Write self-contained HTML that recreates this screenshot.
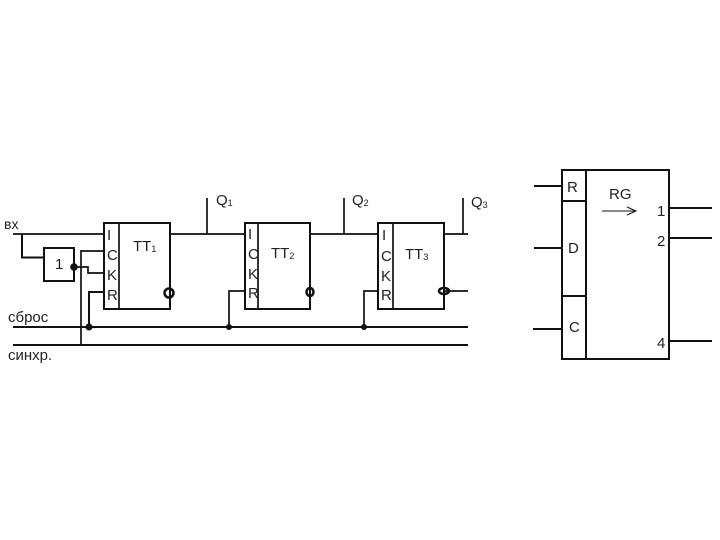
<!DOCTYPE html>
<html>
<head>
<meta charset="utf-8">
<style>
html,body{margin:0;padding:0;background:#fff;width:720px;height:540px;overflow:hidden}
svg{display:block;filter:blur(.3px)}
text{font-family:"Liberation Sans",sans-serif;fill:#222}
</style>
</head>
<body>
<svg width="720" height="540" viewBox="0 0 720 540" xmlns="http://www.w3.org/2000/svg">
<g fill="none" stroke="#111" stroke-width="1.700">
  <!-- TT1 -->
  <rect x="104" y="223" width="66" height="86" stroke-width="2"/>
  <line x1="119" y1="223" x2="119" y2="309"/>
  <!-- TT2 -->
  <rect x="245" y="223" width="65" height="86" stroke-width="2"/>
  <line x1="258" y1="223" x2="258" y2="309"/>
  <!-- TT3 -->
  <rect x="378" y="223" width="66" height="86" stroke-width="2"/>
  <line x1="393" y1="223" x2="393" y2="309"/>
  <!-- element 1 -->
  <path d="M44 248H74V281H44Z" stroke-width="2"/>
  <!-- input and chain -->
  <path d="M13 234H104"/>
  <path d="M22 234V257.500H44" stroke-width="2"/>
  <path d="M74 267H88V273H104"/>
  <path d="M81 345V251H104"/>
  <path d="M89 327V292H104" stroke-width="2"/>
  <path d="M170 234H245M310 234H378M444 234H468"/>
  <path d="M207 198V234M344 198V234M463 198V234"/>
  <path d="M229 327V291H245M364 327V291H378"/>
  <path d="M444 291H468"/>
  <!-- buses -->
  <path d="M13 327H468M13 345H468" stroke-width="2"/>
  <!-- RG -->
  <rect x="562" y="170" width="107" height="189" stroke-width="2"/>
  <line x1="586" y1="170" x2="586" y2="359" stroke-width="2"/>
  <path d="M562 201H586M562 296H586" stroke-width="2"/>
  <path d="M534 186H562M534 248H562M533 329H562" stroke-width="2"/>
  <path d="M669 208H712M669 238H712M669 341H712" stroke-width="2"/>
  <path d="M602 211H636M627 207L636 211L627 215" stroke-width="1"/>
  <!-- inversion circles -->
  <ellipse cx="169" cy="293" rx="4.500" ry="4.500" stroke-width="2.500"/>
  <ellipse cx="310" cy="292" rx="3.500" ry="4" stroke-width="2.500"/>
  <ellipse cx="444" cy="291" rx="5" ry="3" stroke-width="2.500"/>
</g>
<g fill="#111">
  <circle cx="89" cy="327" r="3.500"/>
  <circle cx="229" cy="327" r="3"/>
  <circle cx="364" cy="327" r="3"/>
  <circle cx="74" cy="267" r="3.800"/>
</g>
<g font-size="15">
  <text x="4" y="229" font-size="14">вх</text>
  <text x="8" y="322">сброс</text>
  <text x="8" y="360">синхр.</text>
  <text x="55" y="269">1</text>

  <text x="107" y="240">I</text>
  <text x="107" y="260">C</text>
  <text x="107" y="280">K</text>
  <text x="107" y="300">R</text>
  <text x="133" y="251">ТТ<tspan font-size="9" dy="1">1</tspan></text>

  <text x="248" y="239" fill="#444">I</text>
  <text x="248" y="259" fill="#444">C</text>
  <text x="248" y="279" fill="#444">K</text>
  <text x="248" y="298" fill="#444">R</text>
  <text x="271" y="258">ТТ<tspan font-size="9" dy="1">2</tspan></text>

  <text x="382" y="240">I</text>
  <text x="381" y="261">C</text>
  <text x="381" y="281">K</text>
  <text x="381" y="300">R</text>
  <text x="405" y="259">ТТ<tspan font-size="9" dy="1">3</tspan></text>

  <text x="216" y="205">Q<tspan font-size="9" dy="1">1</tspan></text>
  <text x="352" y="205">Q<tspan font-size="9" dy="1">2</tspan></text>
  <text x="471" y="207">Q<tspan font-size="9" dy="1">3</tspan></text>

  <text x="567" y="192">R</text>
  <text x="568" y="253">D</text>
  <text x="569" y="332">C</text>
  <text x="609" y="199">RG</text>
  <text x="657" y="216">1</text>
  <text x="657" y="246">2</text>
  <text x="657" y="348">4</text>
</g>
</svg>
</body>
</html>
